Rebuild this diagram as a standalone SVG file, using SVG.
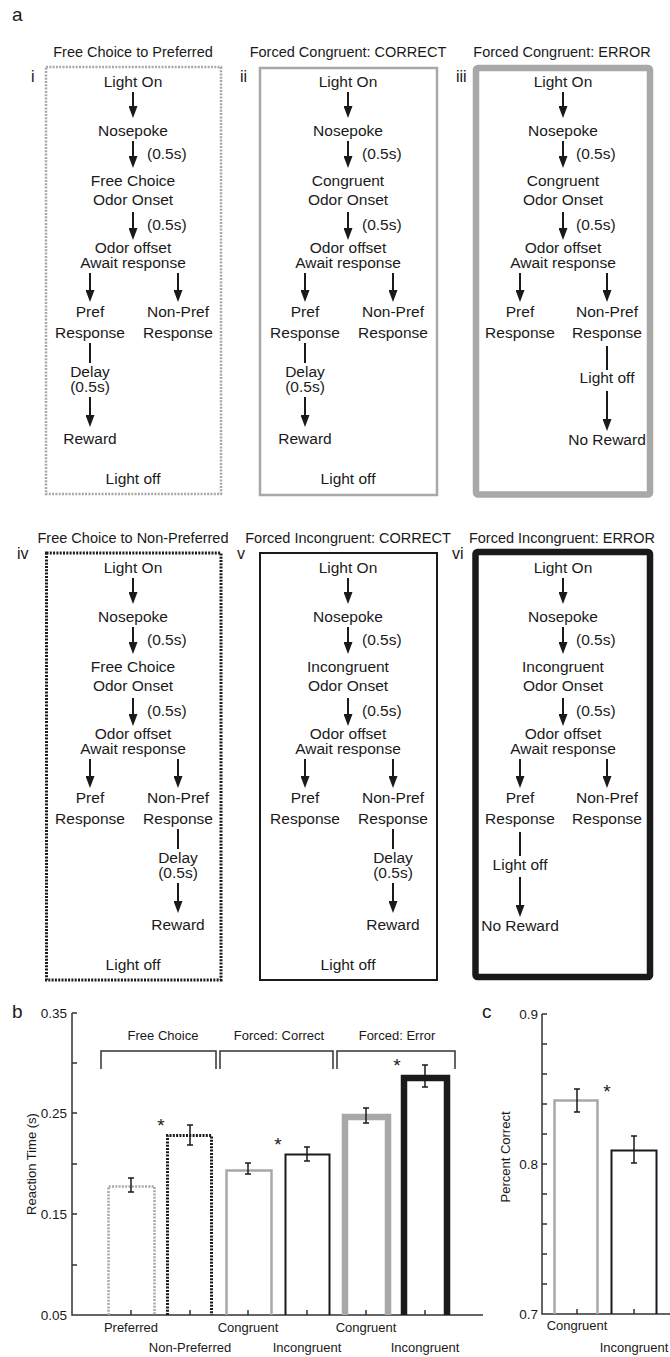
<svg xmlns="http://www.w3.org/2000/svg" width="670" height="1357" viewBox="0 0 670 1357">
<defs>
<style>
text{font-family:"Liberation Sans",Arial,sans-serif;fill:#1a1a1a}
.t{font-size:15.5px;text-anchor:middle}
.s{font-size:15.5px;text-anchor:start}
.ttl{font-size:14.5px;text-anchor:middle}
.num{font-size:16px}
.pl{font-size:19px}
.axr{font-size:13.5px;text-anchor:end}
.axm{font-size:13px;text-anchor:middle}
.ast{font-size:19px;text-anchor:middle}
.ar{stroke:#1a1a1a;stroke-width:2;fill:none;marker-end:url(#ah)}
.ln{stroke:#1a1a1a;stroke-width:2;fill:none}
.gdot{fill:none;stroke:#a8a8a8;stroke-width:2.5;stroke-dasharray:2 1.3}
.gthin{fill:none;stroke:#a8a8a8;stroke-width:2.5}
.gthick{fill:none;stroke:#a8a8a8;stroke-width:6.5}
.kdot{fill:none;stroke:#1a1a1a;stroke-width:3;stroke-dasharray:2 1.3}
.kthin{fill:none;stroke:#1a1a1a;stroke-width:2}
.kthick{fill:none;stroke:#1a1a1a;stroke-width:6.5}
.axis{stroke:#333;stroke-width:1.5;fill:none}
.eb{stroke:#1a1a1a;stroke-width:1.5;fill:none}
</style>
<marker id="ah" viewBox="0 0 12 9" refX="9" refY="4.5" markerWidth="12" markerHeight="9" markerUnits="userSpaceOnUse" orient="auto">
<path d="M0,0 L12,4.5 L0,9 z" fill="#1a1a1a"/>
</marker>
</defs>

<text class="pl" x="12" y="21">a</text>

<!-- Panel i -->
<g id="panel-i">
<text class="ttl" x="133" y="57">Free Choice to Preferred</text>
<text class="num" x="31" y="82">i</text>
<rect class="gdot" x="46" y="67" width="175" height="427"/>
<text class="t" x="133" y="87">Light On</text>
<text class="t" x="133" y="136">Nosepoke</text>
<text class="s" x="147" y="159">(0.5s)</text>
<text class="t" x="133" y="186">Free Choice</text>
<text class="t" x="133" y="205">Odor Onset</text>
<text class="s" x="147" y="230">(0.5s)</text>
<text class="t" x="133" y="253">Odor offset</text>
<text class="t" x="133" y="268">Await response</text>
<text class="t" x="90" y="317">Pref</text>
<text class="t" x="90" y="338">Response</text>
<text class="t" x="178" y="317">Non-Pref</text>
<text class="t" x="178" y="338">Response</text>
<text class="t" x="90" y="377">Delay</text>
<text class="t" x="90" y="392">(0.5s)</text>
<text class="t" x="90" y="444">Reward</text>
<text class="t" x="133" y="484">Light off</text>
</g>

<!-- Panel ii -->
<g id="panel-ii">
<text class="ttl" x="348" y="57">Forced Congruent: CORRECT</text>
<text class="num" x="240" y="82">ii</text>
<rect class="gthin" x="260" y="68" width="177" height="427"/>
<text class="t" x="348" y="87">Light On</text>
<text class="t" x="348" y="136">Nosepoke</text>
<text class="s" x="362" y="159">(0.5s)</text>
<text class="t" x="348" y="186">Congruent</text>
<text class="t" x="348" y="205">Odor Onset</text>
<text class="s" x="362" y="230">(0.5s)</text>
<text class="t" x="348" y="253">Odor offset</text>
<text class="t" x="348" y="268">Await response</text>
<text class="t" x="305" y="317">Pref</text>
<text class="t" x="305" y="338">Response</text>
<text class="t" x="393" y="317">Non-Pref</text>
<text class="t" x="393" y="338">Response</text>
<text class="t" x="305" y="377">Delay</text>
<text class="t" x="305" y="392">(0.5s)</text>
<text class="t" x="305" y="444">Reward</text>
<text class="t" x="348" y="484">Light off</text>
</g>

<!-- Panel iii -->
<g id="panel-iii">
<text class="ttl" x="562" y="57">Forced Congruent: ERROR</text>
<text class="num" x="456" y="82">iii</text>
<rect class="gthick" x="476" y="68" width="174" height="426.5" rx="2"/>
<text class="t" x="563" y="87">Light On</text>
<text class="t" x="563" y="136">Nosepoke</text>
<text class="s" x="576" y="159">(0.5s)</text>
<text class="t" x="563" y="186">Congruent</text>
<text class="t" x="563" y="205">Odor Onset</text>
<text class="s" x="576" y="230">(0.5s)</text>
<text class="t" x="563" y="253">Odor offset</text>
<text class="t" x="563" y="268">Await response</text>
<text class="t" x="520" y="317">Pref</text>
<text class="t" x="520" y="338">Response</text>
<text class="t" x="607" y="317">Non-Pref</text>
<text class="t" x="607" y="338">Response</text>
<text class="t" x="607" y="383">Light off</text>
<text class="t" x="607" y="445">No Reward</text>
</g>

<!-- Panel iv -->
<g id="panel-iv">
<text class="ttl" x="133" y="543">Free Choice to Non-Preferred</text>
<text class="num" x="17" y="559">iv</text>
<rect class="kdot" x="46.5" y="553" width="174.5" height="427"/>
<text class="t" x="133" y="573">Light On</text>
<text class="t" x="133" y="622">Nosepoke</text>
<text class="s" x="147" y="645">(0.5s)</text>
<text class="t" x="133" y="672">Free Choice</text>
<text class="t" x="133" y="691">Odor Onset</text>
<text class="s" x="147" y="716">(0.5s)</text>
<text class="t" x="133" y="739">Odor offset</text>
<text class="t" x="133" y="754">Await response</text>
<text class="t" x="90" y="803">Pref</text>
<text class="t" x="90" y="824">Response</text>
<text class="t" x="178" y="803">Non-Pref</text>
<text class="t" x="178" y="824">Response</text>
<text class="t" x="178" y="863">Delay</text>
<text class="t" x="178" y="878">(0.5s)</text>
<text class="t" x="178" y="930">Reward</text>
<text class="t" x="133" y="970">Light off</text>
</g>

<!-- Panel v -->
<g id="panel-v">
<text class="ttl" x="348" y="543">Forced Incongruent: CORRECT</text>
<text class="num" x="237" y="559">v</text>
<rect class="kthin" x="260" y="553" width="177" height="427"/>
<text class="t" x="348" y="573">Light On</text>
<text class="t" x="348" y="622">Nosepoke</text>
<text class="s" x="362" y="645">(0.5s)</text>
<text class="t" x="348" y="672">Incongruent</text>
<text class="t" x="348" y="691">Odor Onset</text>
<text class="s" x="362" y="716">(0.5s)</text>
<text class="t" x="348" y="739">Odor offset</text>
<text class="t" x="348" y="754">Await response</text>
<text class="t" x="305" y="803">Pref</text>
<text class="t" x="305" y="824">Response</text>
<text class="t" x="393" y="803">Non-Pref</text>
<text class="t" x="393" y="824">Response</text>
<text class="t" x="393" y="863">Delay</text>
<text class="t" x="393" y="878">(0.5s)</text>
<text class="t" x="393" y="930">Reward</text>
<text class="t" x="348" y="970">Light off</text>
</g>

<!-- Panel vi -->
<g id="panel-vi">
<text class="ttl" x="562" y="543">Forced Incongruent: ERROR</text>
<text class="num" x="452" y="559">vi</text>
<rect class="kthick" x="475.5" y="552" width="174.5" height="425" rx="2"/>
<text class="t" x="563" y="573">Light On</text>
<text class="t" x="563" y="622">Nosepoke</text>
<text class="s" x="576" y="645">(0.5s)</text>
<text class="t" x="563" y="672">Incongruent</text>
<text class="t" x="563" y="691">Odor Onset</text>
<text class="s" x="576" y="716">(0.5s)</text>
<text class="t" x="563" y="739">Odor offset</text>
<text class="t" x="563" y="754">Await response</text>
<text class="t" x="520" y="803">Pref</text>
<text class="t" x="520" y="824">Response</text>
<text class="t" x="607" y="803">Non-Pref</text>
<text class="t" x="607" y="824">Response</text>
<text class="t" x="520" y="870">Light off</text>
<text class="t" x="520" y="931">No Reward</text>
</g>

<!-- Connectors -->
<g id="connectors">
<!-- i -->
<line class="ar" x1="133" y1="92" x2="133" y2="115"/>
<line class="ar" x1="133" y1="141" x2="133" y2="165"/>
<line class="ar" x1="133" y1="212" x2="133" y2="237"/>
<line class="ar" x1="90" y1="273" x2="90" y2="299"/>
<line class="ar" x1="178" y1="273" x2="178" y2="299"/>
<line class="ln" x1="90" y1="343" x2="90" y2="363"/>
<line class="ar" x1="90" y1="397" x2="90" y2="424"/>
<!-- ii -->
<line class="ar" x1="348" y1="92" x2="348" y2="115"/>
<line class="ar" x1="348" y1="141" x2="348" y2="165"/>
<line class="ar" x1="348" y1="212" x2="348" y2="237"/>
<line class="ar" x1="305" y1="273" x2="305" y2="299"/>
<line class="ar" x1="393" y1="273" x2="393" y2="299"/>
<line class="ln" x1="305" y1="343" x2="305" y2="363"/>
<line class="ar" x1="305" y1="397" x2="305" y2="424"/>
<!-- iii -->
<line class="ar" x1="563" y1="92" x2="563" y2="115"/>
<line class="ar" x1="563" y1="141" x2="563" y2="165"/>
<line class="ar" x1="563" y1="212" x2="563" y2="237"/>
<line class="ar" x1="520" y1="273" x2="520" y2="299"/>
<line class="ar" x1="607" y1="273" x2="607" y2="299"/>
<line class="ln" x1="607" y1="346" x2="607" y2="370"/>
<line class="ar" x1="607" y1="391" x2="607" y2="428"/>
<!-- iv -->
<line class="ar" x1="133" y1="578" x2="133" y2="601"/>
<line class="ar" x1="133" y1="627" x2="133" y2="651"/>
<line class="ar" x1="133" y1="698" x2="133" y2="723"/>
<line class="ar" x1="90" y1="759" x2="90" y2="785"/>
<line class="ar" x1="178" y1="759" x2="178" y2="785"/>
<line class="ln" x1="178" y1="829" x2="178" y2="849"/>
<line class="ar" x1="178" y1="883" x2="178" y2="910"/>
<!-- v -->
<line class="ar" x1="348" y1="578" x2="348" y2="601"/>
<line class="ar" x1="348" y1="627" x2="348" y2="651"/>
<line class="ar" x1="348" y1="698" x2="348" y2="723"/>
<line class="ar" x1="305" y1="759" x2="305" y2="785"/>
<line class="ar" x1="393" y1="759" x2="393" y2="785"/>
<line class="ln" x1="393" y1="829" x2="393" y2="849"/>
<line class="ar" x1="393" y1="883" x2="393" y2="910"/>
<!-- vi -->
<line class="ar" x1="563" y1="578" x2="563" y2="601"/>
<line class="ar" x1="563" y1="627" x2="563" y2="651"/>
<line class="ar" x1="563" y1="698" x2="563" y2="723"/>
<line class="ar" x1="520" y1="759" x2="520" y2="785"/>
<line class="ar" x1="607" y1="759" x2="607" y2="785"/>
<line class="ln" x1="520" y1="832" x2="520" y2="856"/>
<line class="ar" x1="520" y1="877" x2="520" y2="914"/>
</g>

<!-- Chart b -->
<g id="chart-b">
<text class="pl" x="12" y="1018">b</text>
<path class="axis" d="M72,1013 V1315 H483"/>
<path class="axis" d="M72,1013 h5 M72,1063 h5 M72,1113 h5 M72,1164 h5 M72,1214 h5 M72,1265 h5 M131,1315 v-5 M190,1315 v-5 M248,1315 v-5 M307,1315 v-5 M366,1315 v-5 M425,1315 v-5"/>
<text class="axr" x="67" y="1018">0.35</text>
<text class="axr" x="67" y="1118">0.25</text>
<text class="axr" x="67" y="1219">0.15</text>
<text class="axr" x="67" y="1320">0.05</text>
<text class="axm" transform="translate(36,1164) rotate(-90)">Reaction Time (s)</text>
<path class="axis" d="M101,1069 V1051 H216 V1069 M220,1069 V1051 H333 V1069 M337,1069 V1051 H455 V1069"/>
<text class="axm" x="163" y="1040">Free Choice</text>
<text class="axm" x="279" y="1040">Forced: Correct</text>
<text class="axm" x="397" y="1040">Forced: Error</text>
<path class="gdot" stroke-width="3" d="M108.5,1315 V1186.5 H154.5 V1315"/>
<path class="kdot" d="M167.5,1315 V1135.5 H211.5 V1315"/>
<path class="gthin" stroke-width="3" d="M226.5,1315 V1170.5 H271.5 V1315"/>
<path class="kthin" stroke-width="3" d="M285.5,1315 V1154.5 H329.5 V1315"/>
<path class="gthick" stroke-width="6" d="M345,1315 V1117 H388 V1315"/>
<path class="kthick" stroke-width="6" d="M404,1315 V1078 H447 V1315"/>
<path class="eb" d="M131,1178 V1192 M128,1178 h6 M128,1192 h6 M190,1125 V1145 M187,1125 h6 M187,1145 h6 M248,1163 V1174 M245,1163 h6 M245,1174 h6 M307,1147 V1161 M304,1147 h6 M304,1161 h6 M366,1108 V1123 M363,1108 h6 M363,1123 h6 M425,1065 V1087 M422,1065 h6 M422,1087 h6"/>
<text class="ast" x="161" y="1132">*</text>
<text class="ast" x="278" y="1151">*</text>
<text class="ast" x="397" y="1072">*</text>
<text class="axm" x="131" y="1332">Preferred</text>
<text class="axm" x="190" y="1352">Non-Preferred</text>
<text class="axm" x="248" y="1332">Congruent</text>
<text class="axm" x="307" y="1352">Incongruent</text>
<text class="axm" x="366" y="1332">Congruent</text>
<text class="axm" x="425" y="1352">Incongruent</text>
</g>

<!-- Chart c -->
<g id="chart-c">
<text class="pl" x="482" y="1018">c</text>
<path class="axis" d="M542,1014 V1314 H670"/>
<path class="axis" d="M542,1014 h5 M542,1044 h5 M542,1074 h5 M542,1104 h5 M542,1134 h5 M542,1164 h5 M542,1194 h5 M542,1224 h5 M542,1254 h5 M542,1284 h5 M577,1314 v-5 M634,1314 v-5"/>
<text class="axr" x="538" y="1019">0.9</text>
<text class="axr" x="538" y="1169">0.8</text>
<text class="axr" x="538" y="1319">0.7</text>
<text class="axm" transform="translate(510,1157) rotate(-90)">Percent Correct</text>
<path class="gthin" stroke-width="3" d="M554.5,1314 V1100.5 H597.5 V1314"/>
<path class="kthin" stroke-width="3" d="M611.5,1314 V1150.5 H656.5 V1314"/>
<path class="eb" d="M577,1089 V1112 M574,1089 h6 M574,1112 h6 M634,1136 V1163 M631,1136 h6 M631,1163 h6"/>
<text class="ast" x="607" y="1098">*</text>
<text class="axm" x="577" y="1330">Congruent</text>
<text class="axm" x="634" y="1352">Incongruent</text>
</g>
</svg>
